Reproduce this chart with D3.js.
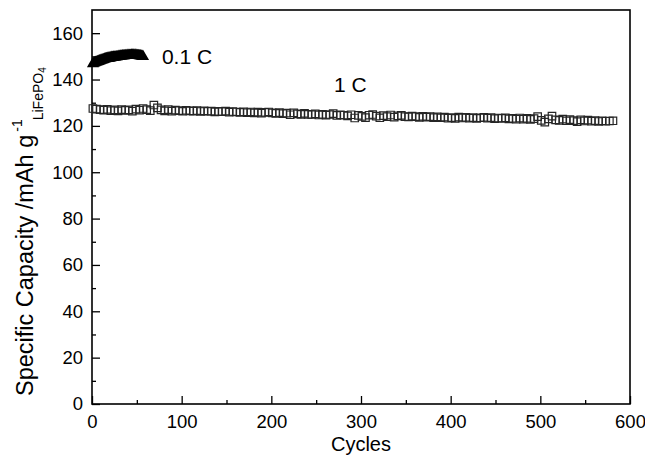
<!DOCTYPE html>
<html>
<head>
<meta charset="utf-8">
<script src="https://cdn.jsdelivr.net/npm/d3@7"></script>
<style>
  body { margin: 0; background: #fff; }
  svg { font-family: "Liberation Sans", Arial, sans-serif; }
</style>
</head>
<body>
<svg id="chart" width="645" height="460"></svg>
<script>
// capacity at 0.1 C, one point per cycle from cycle 1
const lowRateStart = 1;
const lowRate = [
  146.8, 147.0, 147.2, 147.4, 147.5, 147.7, 147.8, 148.0, 148.1, 148.3,
  148.4, 148.5, 148.6, 148.8, 148.9, 149.0, 149.1, 149.2, 149.2, 149.3,
  149.4, 149.5, 149.5, 149.6, 149.7, 149.7, 149.8, 149.8, 149.9, 150.0,
  150.0, 150.1, 150.1, 150.2, 150.2, 150.2, 150.3, 150.3, 150.3, 150.4,
  150.4, 150.4, 150.4, 150.5, 150.5, 150.5, 150.4, 150.5, 150.4, 150.4,
  150.3, 150.3, 150.2, 150.2, 150.1, 150.0, 149.9
];

// capacity at 1 C, read every 4th cycle from cycle 1
const highRateStart = 1, highRateStep = 4;
const highRate = [
  127.5, 127.2, 127.0, 126.8, 127.1, 126.6, 126.9, 126.5, 127.0, 126.7,
  126.9, 126.4, 127.2, 126.8, 127.5, 127.0, 126.6, 129.0, 127.8, 126.9,
  126.5, 127.0, 126.4, 126.8, 126.6, 126.3, 126.7, 126.5, 126.4, 126.6,
  126.2, 126.5, 126.3, 126.4, 126.0, 126.3, 126.1, 126.4, 125.9, 126.2,
  126.0, 125.8, 126.1, 125.7, 126.0, 125.6, 125.9, 125.5, 125.8, 126.0,
  125.6, 125.4, 125.7, 125.3, 125.5, 124.8, 125.6, 125.2, 125.0, 125.4,
  125.0, 124.9, 125.2, 124.7, 125.0, 124.6, 124.9, 125.3, 124.5, 124.8,
  124.6, 124.3, 124.8, 123.4, 124.5, 124.1, 123.6, 124.6, 124.9, 124.2,
  123.5, 124.4, 124.0, 124.7, 123.8, 124.3, 124.5, 124.0, 123.9, 124.2,
  124.0, 123.7, 124.1, 123.8, 124.0, 123.6, 123.9, 123.5, 123.8, 123.3,
  123.6, 123.2, 123.8, 123.4, 123.7, 123.3, 123.6, 123.2, 123.5, 123.7,
  123.3, 123.6, 123.1, 123.4, 123.2, 123.5, 123.0, 123.3, 122.9, 123.4,
  122.9, 123.2, 122.8, 123.1, 124.0, 122.4, 121.6, 123.0, 124.2, 122.6,
  122.4, 122.9, 122.2, 122.7, 122.3, 121.8, 122.6, 122.1, 122.5, 122.0,
  122.3, 121.9, 122.2, 122.0, 122.1, 122.2
];

const xTicks = [0, 100, 200, 300, 400, 500, 600];
const yTicks = [0, 20, 40, 60, 80, 100, 120, 140, 160];
const labels = [
  { text: "0.1 C", cycle: 78, value: 146.5 },
  { text: "1 C", cycle: 270, value: 134.5 }
];

const margin = { top: 10, right: 15, bottom: 56, left: 92 };
const svg = d3.select("#chart"),
    width = +svg.attr("width") - margin.left - margin.right,
    height = +svg.attr("height") - margin.top - margin.bottom;

const g = svg.append("g").attr("transform", "translate(" + margin.left + "," + margin.top + ")");

const x = d3.scaleLinear().domain([0, 600]).range([0, width]);
const y = d3.scaleLinear().domain([0, 170]).range([height, 0]);

// minor ticks
g.append("g")
    .attr("transform", "translate(0," + height + ")")
    .call(d3.axisBottom(x).tickValues(d3.range(50, 600, 100)).tickSize(-4).tickFormat(""));
g.append("g")
    .call(d3.axisLeft(y).tickValues(d3.range(10, 170, 20)).tickSize(-4).tickFormat(""));

// major ticks
g.append("g")
    .attr("class", "x axis")
    .attr("transform", "translate(0," + height + ")")
    .call(d3.axisBottom(x).tickValues(xTicks).tickSize(-8).tickPadding(11));
g.append("g")
    .attr("class", "y axis")
    .call(d3.axisLeft(y).tickValues(yTicks).tickSize(-8).tickPadding(9));

g.selectAll(".domain").remove();
g.selectAll(".tick line").attr("stroke", "#000").attr("stroke-width", 1.3);
g.selectAll(".tick text").attr("font-size", 18.5).attr("fill", "#000").style("font-family", "Liberation Sans, Arial, sans-serif");

// frame
g.append("rect")
    .attr("width", width)
    .attr("height", height)
    .attr("fill", "none")
    .attr("stroke", "#000")
    .attr("stroke-width", 1.6);

// 1 C open squares
const square = d3.symbol().type(d3.symbolSquare).size(56);
g.selectAll(".sq")
    .data(highRate)
    .enter().append("path")
    .attr("class", "sq")
    .attr("d", square)
    .attr("transform", (d, i) => "translate(" + x(highRateStart + i * highRateStep) + "," + y(d) + ")")
    .attr("fill", "none")
    .attr("stroke", "#262626")
    .attr("stroke-width", 1.2);

// 0.1 C filled triangles
const tri = d3.symbol().type(d3.symbolTriangle).size(62);
g.selectAll(".tri")
    .data(lowRate)
    .enter().append("path")
    .attr("class", "tri")
    .attr("d", tri)
    .attr("transform", (d, i) => "translate(" + x(lowRateStart + i) + "," + y(d) + ")")
    .attr("fill", "#000");

// series labels
g.selectAll(".lbl")
    .data(labels)
    .enter().append("text")
    .attr("class", "lbl")
    .attr("x", d => x(d.cycle))
    .attr("y", d => y(d.value))
    .attr("font-size", 21)
    .text(d => d.text);

// axis titles
svg.append("text")
    .attr("x", margin.left + width / 2)
    .attr("y", 451)
    .attr("text-anchor", "middle")
    .attr("font-size", 20)
    .text("Cycles");

const yt = svg.append("text")
    .attr("transform", "translate(33,396) rotate(-90)")
    .attr("font-size", 23.5);
yt.append("tspan").text("Specific Capacity /mAh g");
yt.append("tspan").attr("font-size", 14).attr("dy", -11).attr("dx", 3).text("-1");
yt.append("tspan").attr("font-size", 14).attr("dy", 21).attr("dx", -1).text("LiFePO");
yt.append("tspan").attr("font-size", 10).attr("dy", 3).text("4");
</script>
</body>
</html>
